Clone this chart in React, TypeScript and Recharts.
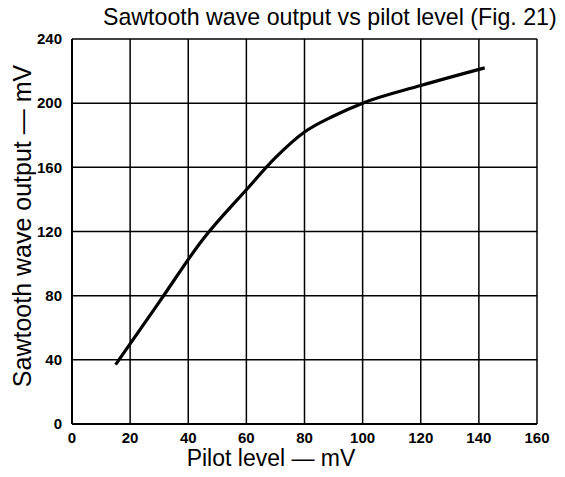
import React from "react";
import { LineChart, Line, XAxis, YAxis, CartesianGrid } from "recharts";

const pilotLevel = [15, 30, 45, 60, 70, 80, 90, 100, 120, 142];
const sawtoothOutput = [37, 76, 115, 146, 166, 182, 192, 200, 211, 222];
const xTicks = [0, 20, 40, 60, 80, 100, 120, 140, 160];
const yTicks = [0, 40, 80, 120, 160, 200, 240];

const data = pilotLevel.map((x, i) => ({ x, y: sawtoothOutput[i] }));

const tickFont = {
  fontFamily: "'Liberation Sans Narrow', 'Liberation Sans', Arial, sans-serif",
  fontWeight: 700,
  fontSize: 15,
  fill: "#000",
};

const labelFont = "'Liberation Sans', Arial, sans-serif";

export default function App() {
  return (
    <div
      style={{
        position: "relative",
        width: 565,
        height: 477,
        margin: -8,
        background: "#fff",
      }}
    >
      <LineChart
        width={565}
        height={477}
        data={data}
        margin={{ top: 39, right: 28, bottom: 8, left: 8 }}
      >
        <CartesianGrid stroke="#000" strokeWidth={1.5} horizontal vertical />
        <XAxis
          type="number"
          dataKey="x"
          domain={[0, 160]}
          ticks={xTicks}
          interval={0}
          tickLine={false}
          axisLine={{ stroke: "#000", strokeWidth: 2 }}
          tick={tickFont}
          tickMargin={2}
          height={45}
        />
        <YAxis
          type="number"
          dataKey="y"
          domain={[0, 240]}
          ticks={yTicks}
          interval={0}
          tickLine={false}
          axisLine={{ stroke: "#000", strokeWidth: 2 }}
          tick={tickFont}
          tickMargin={4}
          width={64}
        />
        <Line
          type="monotone"
          dataKey="y"
          stroke="#000"
          strokeWidth={3.2}
          dot={false}
          isAnimationActive={false}
        />
        <text
          x={103}
          y={25}
          fontFamily={labelFont}
          fontSize={23.2}
          fill="#000"
        >
          Sawtooth wave output vs pilot level (Fig. 21)
        </text>
        <text
          x={31}
          y={226}
          transform="rotate(-90 31 226)"
          textAnchor="middle"
          fontFamily={labelFont}
          fontSize={25}
          fill="#000"
        >
          Sawtooth wave output — mV
        </text>
        <text
          x={271}
          y={466}
          textAnchor="middle"
          fontFamily={labelFont}
          fontSize={23}
          fill="#000"
        >
          Pilot level — mV
        </text>
      </LineChart>
    </div>
  );
}
